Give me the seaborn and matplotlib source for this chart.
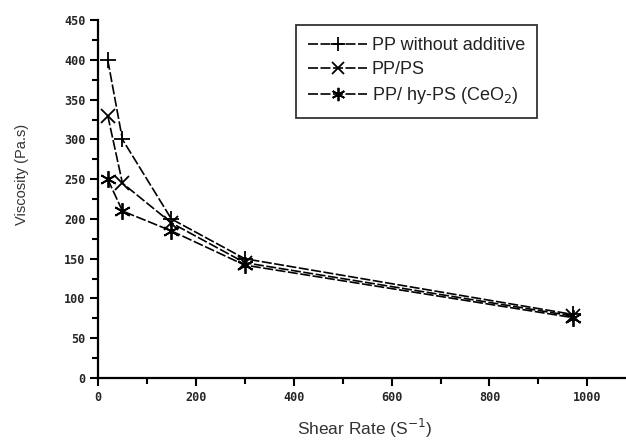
import matplotlib
matplotlib.use('Agg')
import pandas as pd
import matplotlib.pyplot as plt
import seaborn as sns
from matplotlib.ticker import MultipleLocator

# data
shear_rate = [20, 50, 150, 300, 970]
pp_plain = [400, 300, 200, 150, 80]
pp_ps = [330, 245, 195, 145, 78]
pp_hyps = [250, 210, 185, 142, 76]
labels = ['PP without additive', 'PP/PS', 'PP/ hy-PS (CeO$_2$)']

sns.set_style('ticks')
plt.rcParams['font.family'] = ['Liberation Sans', 'DejaVu Sans']

fig = plt.figure(figsize=(6.26, 4.44), dpi=100)
ax = fig.add_axes([0.1565, 0.1486, 0.842, 0.806])

markers = ['+', 'x', (6, 2, 0)]
sizes = [12, 10, 12]
for vals, lab, m, ms in zip([pp_plain, pp_ps, pp_hyps], labels, markers, sizes):
    sns.lineplot(x=shear_rate, y=vals, ax=ax, color='black', lw=1.2,
                 linestyle=(0, (6, 1.5)), marker=m, markersize=ms,
                 markeredgewidth=1.3, markeredgecolor='black', label=lab)

ax.set_xlim(0, 1077)
ax.set_ylim(0, 450)
ax.xaxis.set_major_locator(MultipleLocator(200))
ax.xaxis.set_minor_locator(MultipleLocator(100))
ax.yaxis.set_major_locator(MultipleLocator(50))
ax.yaxis.set_minor_locator(MultipleLocator(25))
ax.tick_params(which='major', direction='out', length=6, width=1.5, color='black', pad=3)
ax.tick_params(which='minor', direction='out', length=4, width=1.5, color='black')
for lbl in ax.get_xticklabels() + ax.get_yticklabels():
    lbl.set_fontsize(8.5)
    lbl.set_fontweight('bold')
    lbl.set_family('DejaVu Sans Mono')

for side in ['top', 'right']:
    ax.spines[side].set_visible(False)
for side in ['left', 'bottom']:
    ax.spines[side].set_linewidth(1.6)
    ax.spines[side].set_color('black')

ax.set_xlabel('Shear Rate (S$^{-1}$)', fontsize=12.5, color='#333333')
ax.set_ylabel('Viscosity (Pa.s)', fontsize=10.5, color='#333333')
ax.xaxis.set_label_coords(0.507, -0.11)
ax.yaxis.set_label_coords(-0.13, 0.57)

leg = ax.legend(loc='upper left', bbox_to_anchor=(0.376, 0.986), fontsize=13,
                frameon=True, fancybox=False, edgecolor='black', markerscale=0.8,
                handlelength=3.3, handletextpad=0.25, borderpad=0.65,
                labelspacing=0.4, borderaxespad=0)
leg.get_frame().set_linewidth(1.3)
for t in leg.get_texts():
    t.set_color('#222222')

fig.savefig('out.png', dpi=100)
